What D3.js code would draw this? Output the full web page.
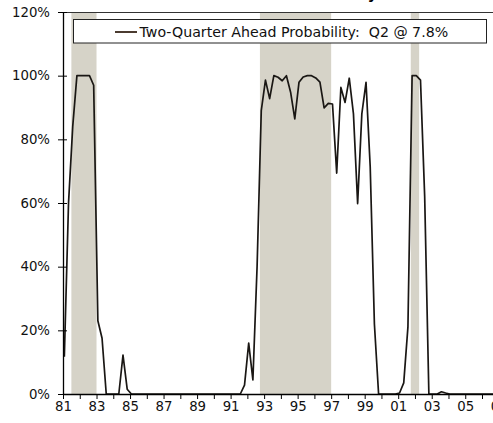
<!DOCTYPE html>
<html>
<head>
<meta charset="utf-8">
<script src="https://cdn.jsdelivr.net/npm/d3@7"></script>
<style>
  body { margin: 0; background: #fff; }
  svg { display: block; overflow: hidden; font-family: "DejaVu Sans", Verdana, sans-serif; }
</style>
</head>
<body>
<svg width="493" height="423"></svg>
<script>
// quarterly probability (%), starting 1981 Q1
var startYear = 1981;
var probability = [
  11.7, 60, 84, 100, 100, 100, 100, 97,        // 81-82
  23, 17.5, 0, 0, 0, 0, 12.2, 1.5,             // 83-84
  0, 0, 0, 0, 0, 0, 0, 0,                      // 85-86
  0, 0, 0, 0, 0, 0, 0, 0,                      // 87-88
  0, 0, 0, 0, 0, 0, 0, 0,                      // 89-90
  0, 0, 0, 2.8, 16, 4.4, 40, 89,               // 91-92
  98.6, 92.8, 100, 99.5, 98.4, 100, 94.8, 86.4, // 93-94
  97.9, 99.6, 100, 100, 99.3, 98, 89.9, 91.3,  // 95-96
  91.1, 69.4, 96.3, 91.6, 99.2, 88, 59.8, 88,  // 97-98
  97.9, 71.3, 22, 0, 0, 0, 0, 0,               // 99-00
  0.3, 3.5, 21, 100, 100, 98.6, 62, 0,         // 01-02
  0, 0, 0.7, 0.3, 0, 0, 0, 0,                  // 03-04
  0, 0, 0, 0, 0, 0, 0, 0                       // 05-06
];
var shadedStart = [1981.5, 1992.75, 2001.75];
var shadedEnd   = [1983.0, 1997.0, 2002.25];
var yTicks = [0, 20, 40, 60, 80, 100, 120];
var xTicks = d3.range(1981, 2008);
var legendLabel = "Two-Quarter Ahead Probability:  Q2 @ 7.8%";
var chartTitle = "Recession Probability";

var margin = {left: 63, top: 12, bottom: 29};
var height = 423;
var pxPerYear = 16.76;

var x = d3.scaleLinear().domain([1981, 2007]).range([margin.left, margin.left + 26 * pxPerYear]);
var y = d3.scaleLinear().domain([0, 120]).range([height - margin.bottom, margin.top]);

var svg = d3.select('svg');

// title sits above the visible area, only descenders show
svg.append('text')
  .attr('x', 377)
  .attr('y', -1)
  .attr('text-anchor', 'end')
  .style('font-size', '14px')
  .style('font-weight', 'bold')
  .text(chartTitle);

// shaded periods
svg.selectAll('rect.shade')
  .data(shadedStart)
  .enter()
  .append('rect')
  .attr('class', 'shade')
  .attr('x', function (d) { return x(d); })
  .attr('width', function (d, i) { return x(shadedEnd[i]) - x(d); })
  .attr('y', y(120))
  .attr('height', y(0) - y(120))
  .attr('fill', '#d6d3c8');

// top border of plot area
svg.append('line')
  .attr('x1', x(1981)).attr('x2', 493)
  .attr('y1', y(120) + 0.5).attr('y2', y(120) + 0.5)
  .attr('stroke', '#333');

// series line
var line = d3.line()
  .x(function (d, i) { return x(startYear + i / 4 + 0.08); })
  .y(function (d) { return y(d); });

svg.append('path')
  .datum(probability)
  .attr('d', line)
  .attr('fill', 'none')
  .attr('stroke', '#1a1714')
  .attr('stroke-width', 1.7)
  .attr('stroke-linejoin', 'round');

// axes
var axisBottom = d3.axisBottom(x)
  .tickValues(xTicks)
  .tickSizeInner(5)
  .tickSizeOuter(0)
  .tickPadding(3)
  .tickFormat(function (d) { return d % 2 ? d3.format('02')(d % 100) : ''; });

var gx = svg.append('g')
  .attr('transform', 'translate(0,' + y(0) + ')')
  .call(axisBottom);

var axisLeft = d3.axisLeft(y)
  .tickValues(yTicks)
  .tickSizeInner(5)
  .tickSizeOuter(0)
  .tickPadding(8)
  .tickFormat(function (d) { return d + '%'; });

var gy = svg.append('g')
  .attr('transform', 'translate(' + x(1981) + ',0)')
  .call(axisLeft);

gy.selectAll('.tick line').attr('x1', 4);
svg.selectAll('.domain').attr('stroke', '#000').attr('stroke-width', 1.3);
svg.selectAll('.tick text')
  .attr('fill', '#111')
  .style('font-size', '13.3px')
  .style('font-family', '"DejaVu Sans", Verdana, sans-serif');

// legend
var legend = svg.append('g');
legend.append('rect')
  .attr('x', 73.5).attr('y', 19.5)
  .attr('width', 413).attr('height', 23.5)
  .attr('fill', '#fff')
  .attr('stroke', '#222');
legend.append('line')
  .attr('x1', 115).attr('x2', 137)
  .attr('y1', 32).attr('y2', 32)
  .attr('stroke', '#4b3b30')
  .attr('stroke-width', 2);
legend.append('text')
  .attr('x', 139.5)
  .attr('y', 32)
  .attr('dy', '0.36em')
  .attr('fill', '#111')
  .style('font-size', '14.2px')
  .style('white-space', 'pre')
  .text(legendLabel);
</script>
</body>
</html>
